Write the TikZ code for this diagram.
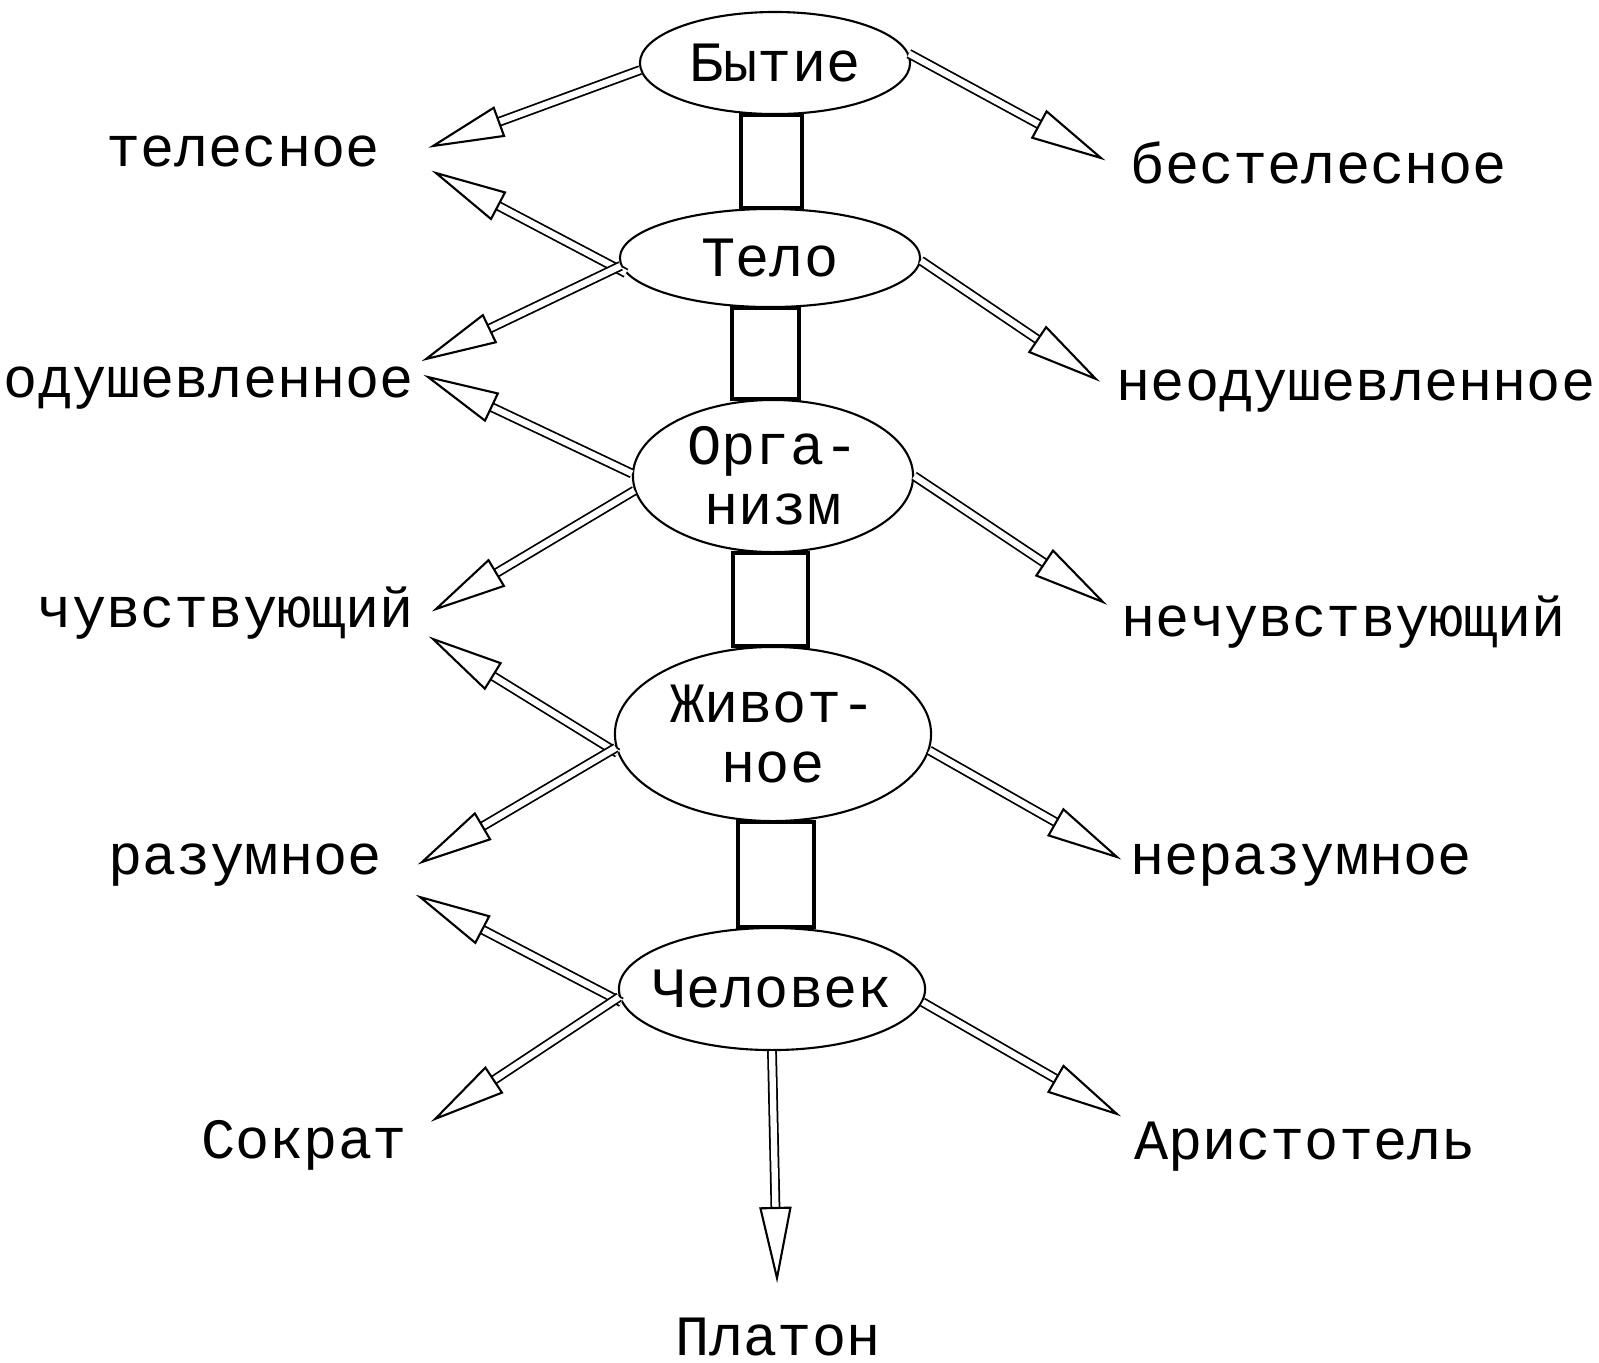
\documentclass[tikz,border=0pt]{standalone}
\usepackage{fontspec}
\setmainfont{Liberation Mono}
\usetikzlibrary{shapes.geometric,decorations.markings}

\tikzset{
  kind/.style={draw, ellipse, line width=0.6pt, inner xsep=-0.3cm, inner ysep=-0.1cm, align=center},
  link/.style={draw, line width=1pt},
  branch/.style={double, double distance=1.8pt, line width=0.5pt, shorten >=5mm,
    postaction={decorate, decoration={markings, mark=at position 1 with {
      \path[draw=black, fill=white, line width=0.6pt] (0,0) -- (-7mm,1.5mm) -- (-7mm,-1.5mm) -- cycle;}}}}
}

\begin{document}
\begin{tikzpicture}[x=0.01cm, y=-0.01cm, font=\fontsize{16.2}{17}\selectfont]
    \useasboundingbox (0,0) rectangle (1599,1362);

    % draw kinds
    \node[kind, minimum width=2.70cm, minimum height=1.02cm] (be) at (775,63) {Бытие};
    \node[kind, minimum width=3.00cm, minimum height=0.98cm] (te) at (770,258) {Тело};
    \node[kind, minimum width=2.80cm, minimum height=1.52cm] (or) at (773,476) {Орга-\\низм};
    \node[kind, minimum width=3.16cm, minimum height=1.74cm] (zh) at (773,734) {Живот-\\ное};
    \node[kind, minimum width=3.06cm, minimum height=1.22cm] (ch) at (772,989) {Человек};

    % draw links
    \draw[link] ([xshift=-0.34cm]be.south) rectangle ([xshift=0.32cm]te.north);
    \draw[link] ([xshift=-0.38cm]te.south) rectangle ([xshift=0.26cm]or.north);
    \draw[link] ([xshift=-0.40cm]or.south) rectangle ([xshift=0.35cm]zh.north);
    \draw[link] ([xshift=-0.35cm]zh.south) rectangle ([xshift=0.42cm]ch.north);

    % draw labels
    \node (telesnoe) at (243,151) {телесное};
    \node (bestelesnoe) at (1319,163) {бестелесное};
    \node (odush) at (209,388) {одушевленное};
    \node (neodush) at (1356,391) {неодушевленное};
    \node (chuvst) at (226,613) {чувствующий};
    \node (nechuvst) at (1344,622) {нечувствующий};
    \node (razum) at (245,865) {разумное};
    \node (nerazum) at (1301,865) {неразумное};
    \node (sokrat) at (304,1145) {Сократ};
    \node (aristotel) at (1305,1147) {Аристотель};
    \node (platon) at (778,1337) {Платон};

    % arrow tips
    \coordinate (t1) at (433,146);
    \coordinate (t2) at (436,173);
    \coordinate (t3) at (426,359);
    \coordinate (t4) at (428,377);
    \coordinate (t5) at (436,609);
    \coordinate (t6) at (433,639);
    \coordinate (t7) at (422,862);
    \coordinate (t8) at (420,897);
    \coordinate (t9) at (435,1119);
    \coordinate (t10) at (777,1278);
    \coordinate (r1) at (1101,158);
    \coordinate (r2) at (1096,379);
    \coordinate (r3) at (1103,602);
    \coordinate (r4) at (1117,857);
    \coordinate (r5) at (1117,1114);

    % draw branches
    \draw[branch] (be.183) -- (t1);
    \draw[branch] (te.186) -- (t2);
    \draw[branch] (te.183) -- (t3);
    \draw[branch] (or.179) -- (t4);
    \draw[branch] (or.186) -- (t5);
    \draw[branch] (zh.187) -- (t6);
    \draw[branch] (zh.185) -- (t7);
    \draw[branch] (ch.185) -- (t8);
    \draw[branch] (ch.183) -- (t9);
    \draw[branch] (ch.south) -- (t10);
    \draw[branch] (be.4) -- (r1);
    \draw[branch] (te.-1) -- (r2);
    \draw[branch] (or.east) -- (r3);
    \draw[branch] (zh.-6) -- (r4);
    \draw[branch] (ch.-5) -- (r5);
\end{tikzpicture}
\end{document}
